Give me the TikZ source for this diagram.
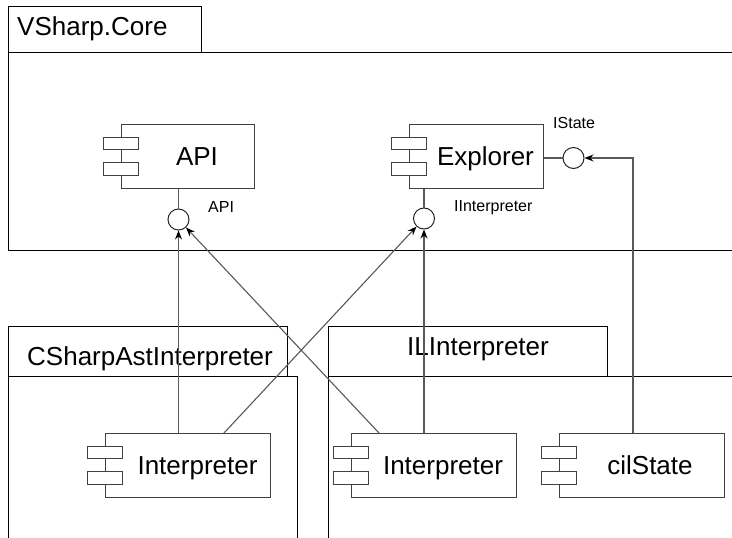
\documentclass[tikz,border=0pt]{standalone}
\usepackage{fontspec}
\setmainfont{Liberation Sans}
\usetikzlibrary{arrows.meta}
\begin{document}
\begin{tikzpicture}[x=1pt,y=-1pt,
  pkg/.style={draw=black, line width=1pt},
  comp/.style={draw=black!75, line width=1pt, fill=white, minimum height=64pt, inner sep=0pt, text height=18.7pt, text depth=0pt, font=\fontsize{26}{30}\selectfont},
  iface/.style={circle, draw=black!85, line width=1pt, fill=white, minimum size=21pt, inner sep=0pt},
  conn/.style={draw=black!65, line width=1.1pt},
  arr/.style={conn, -{Stealth[length=9pt,width=7pt,inset=3pt,color=black]}},
  big/.style={font=\fontsize{26}{30}\selectfont, inner sep=0pt, anchor=base west},
  small/.style={font=\fontsize{16}{19}\selectfont, inner sep=0pt, anchor=base west},
  port/.style={draw=black!75, line width=1pt, fill=white}
]
\useasboundingbox[fill=white] (0,0) rectangle (732,538);
% packages
\draw[pkg] (8,52) -- (8,6) -- (201,6) -- (201,52);
\draw[pkg] (8,250) -- (8,52) -- (732,52);
\draw[pkg] (8,250) -- (732,250);
\draw[pkg] (8,538) -- (8,326) -- (287,326) -- (287,376);
\draw[pkg] (8,376) -- (297,376) -- (297,538);
\draw[pkg] (328,538) -- (328,326) -- (607,326) -- (607,376);
\draw[pkg] (328,376) -- (732,376);
\node[big] (tcore) at (17,35) {VSharp.Core};
\node[big] (tcs) at (27,365) {CSharpAstInterpreter};
\node[big] (til) at (407,355) {ILInterpreter};
% components
\node[comp, minimum width=133pt] (api) at (187.5,156) {\hspace*{19pt}API};
\node[comp, minimum width=134pt] (exp) at (476,156) {\hspace*{19pt}Explorer};
\node[comp, minimum width=165pt] (csi) at (187.5,465.5) {\hspace*{20pt}Interpreter};
\node[comp, minimum width=165pt] (ili) at (433.5,465.5) {\hspace*{19pt}Interpreter};
\node[comp, minimum width=165pt] (cil) at (641.5,465.5) {\hspace*{17pt}cilState};
\foreach \n in {api,exp,csi,ili,cil}{
  \draw[port] ([xshift=-17pt,yshift=7pt]\n.west) rectangle ([xshift=18pt,yshift=19pt]\n.west);
  \draw[port] ([xshift=-17pt,yshift=-6pt]\n.west) rectangle ([xshift=18pt,yshift=-19pt]\n.west);
}
% interfaces
\node[iface] (apic) at (178.5,219.5) {};
\node[iface] (ifc) at (424,218.5) {};
\node[iface] (isc) at (573.5,158) {};
\node[small] (lapi) at (208,212) {API};
\node[small] (lif) at (454,211) {IInterpreter};
\node[small] (lis) at (553,128) {IState};
\draw[conn] (api.south -| apic) -- (apic);
\draw[conn] (exp.south -| ifc) -- (ifc);
\draw[conn] (exp.east |- isc) -- (isc);
% connectors
\draw[arr] (csi.north -| apic) -- (apic);
\draw[arr] ([xshift=36.5pt]csi.north) -- (ifc);
\draw[arr] (ili.north -| ifc) -- (ifc);
\draw[arr] ([xshift=-54.5pt]ili.north) -- (apic);
\draw[arr] ([xshift=-8.5pt]cil.north) |- (isc);
\end{tikzpicture}
\end{document}
